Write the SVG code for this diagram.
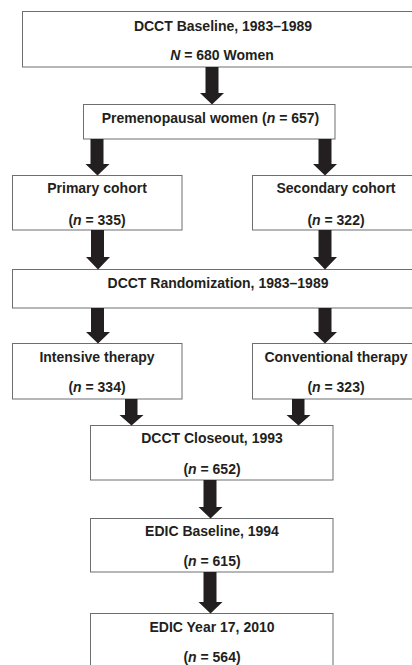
<svg xmlns="http://www.w3.org/2000/svg" width="412" height="665" viewBox="0 0 412 665">
<style>
.box{fill:#fff;stroke:#6d6e71;stroke-width:1}
.t{font-family:"Liberation Sans",Arial,sans-serif;font-weight:bold;font-size:14px;fill:#231f20;text-anchor:middle}
.arr{fill:#231f20}
</style>
<rect width="412" height="665" fill="#fff"/>
<g id="n1"><rect class="box" x="22.5" y="11.5" width="402" height="55.5"/>
<text class="t" x="223" y="30.5">DCCT Baseline, 1983–1989</text>
<text class="t" x="222" y="60"><tspan font-style="italic">N</tspan> = 680 Women</text></g>
<g id="n2"><rect class="box" x="83.5" y="104.5" width="251.5" height="34.5"/>
<text class="t" x="210.5" y="123">Premenopausal women (<tspan font-style="italic">n</tspan> = 657)</text></g>
<g id="n3"><rect class="box" x="12.5" y="175.5" width="169.5" height="54.5"/>
<text class="t" x="97" y="193">Primary cohort</text>
<text class="t" x="97" y="225">(<tspan font-style="italic">n</tspan> = 335)</text></g>
<g id="n4"><rect class="box" x="252.5" y="175.5" width="170" height="54.5"/>
<text class="t" x="336" y="193">Secondary cohort</text>
<text class="t" x="336" y="225">(<tspan font-style="italic">n</tspan> = 322)</text></g>
<g id="n5"><rect class="box" x="12.5" y="269.5" width="412" height="38.5"/>
<text class="t" x="218" y="288">DCCT Randomization, 1983–1989</text></g>
<g id="n6"><rect class="box" x="12.5" y="343.5" width="169.5" height="55.5"/>
<text class="t" x="97" y="362">Intensive therapy</text>
<text class="t" x="97" y="392">(<tspan font-style="italic">n</tspan> = 334)</text></g>
<g id="n7"><rect class="box" x="252.5" y="343.5" width="170" height="55.5"/>
<text class="t" x="336" y="362">Conventional therapy</text>
<text class="t" x="336" y="392">(<tspan font-style="italic">n</tspan> = 323)</text></g>
<g id="n8"><rect class="box" x="90.5" y="425.5" width="242.5" height="54.5"/>
<text class="t" x="212" y="443">DCCT Closeout, 1993</text>
<text class="t" x="212" y="474">(<tspan font-style="italic">n</tspan> = 652)</text></g>
<g id="n9"><rect class="box" x="90.5" y="518.5" width="242.5" height="53.5"/>
<text class="t" x="212" y="536">EDIC Baseline, 1994</text>
<text class="t" x="212" y="566">(<tspan font-style="italic">n</tspan> = 615)</text></g>
<g id="n10"><rect class="box" x="90.5" y="613.5" width="242.5" height="60"/>
<text class="t" x="212" y="632">EDIC Year 17, 2010</text>
<text class="t" x="212" y="662">(<tspan font-style="italic">n</tspan> = 564)</text></g>
<g id="connectors">
<polygon class="arr" points="205.5,67 218.5,67 218.5,93 224,93 212,104.5 200,93 205.5,93"/>
<polygon class="arr" points="90.5,139 103.5,139 103.5,164 109.5,164 97.5,175.5 85.5,164 90.5,164"/>
<polygon class="arr" points="318.5,139 331.5,139 331.5,164 337,164 325,175.5 313,164 318.5,164"/>
<polygon class="arr" points="91,230 104,230 104,257 110,257 98,269.5 86,257 91,257"/>
<polygon class="arr" points="318.5,230 331.5,230 331.5,257 337,257 325,269.5 313,257 318.5,257"/>
<polygon class="arr" points="91,308 104,308 104,332 110,332 98,343.5 86,332 91,332"/>
<polygon class="arr" points="318.5,308 331.5,308 331.5,332 337,332 325,343.5 313,332 318.5,332"/>
<polygon class="arr" points="125,399 137.5,399 137.5,415 143.5,415 131.5,425.5 119.5,415 125,415"/>
<polygon class="arr" points="292,399 304.5,399 304.5,415 310.5,415 298.5,425.5 286.5,415 292,415"/>
<polygon class="arr" points="203.5,480 216.5,480 216.5,507 222.5,507 210.5,518.5 198.5,507 203.5,507"/>
<polygon class="arr" points="203.5,572 216.5,572 216.5,602 222.5,602 210.5,613.5 198.5,602 203.5,602"/>
</g>
</svg>
